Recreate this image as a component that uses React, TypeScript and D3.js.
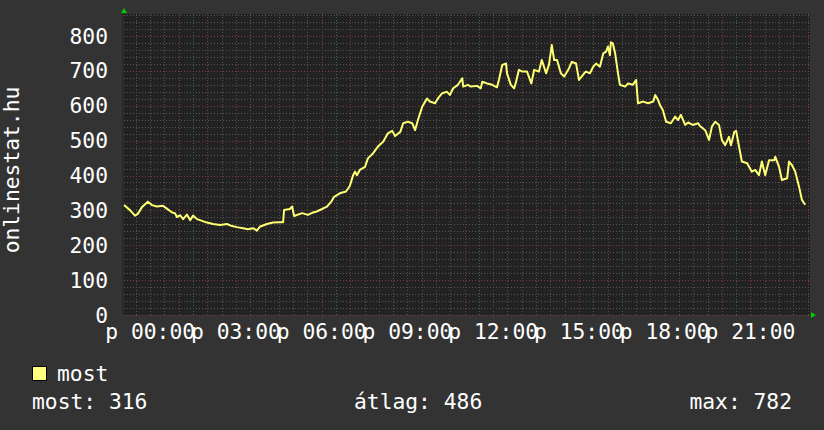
import React from "react";
import * as d3 from "d3";

// minutes after the window start (23:05), and visitor counts
const minutes = [0, 2, 13, 23, 29, 38, 50, 59, 69, 82, 90, 101, 107, 111, 118, 124, 132, 139, 145, 153, 164, 174, 187, 202, 216, 227, 237, 250, 260, 271, 279, 285, 300, 313, 327, 334, 336, 348, 353, 357, 374, 386, 395, 403, 416, 426, 435, 441, 453, 466, 474, 481, 485, 489, 495, 506, 512, 523, 533, 544, 554, 563, 569, 580, 586, 596, 605, 611, 617, 626, 636, 642, 653, 659, 668, 678, 684, 691, 701, 710, 712, 722, 728, 741, 749, 752, 762, 773, 783, 787, 794, 802, 804, 812, 819, 823, 829, 836, 846, 855, 861, 871, 877, 886, 892, 898, 903, 909, 917, 924, 934, 940, 949, 955, 966, 970, 978, 985, 991, 999, 1006, 1012, 1016, 1020, 1022, 1026, 1031, 1033, 1037, 1041, 1052, 1058, 1068, 1075, 1079, 1090, 1100, 1111, 1115, 1121, 1125, 1131, 1138, 1148, 1157, 1163, 1169, 1178, 1184, 1194, 1205, 1209, 1220, 1228, 1234, 1241, 1249, 1255, 1262, 1270, 1274, 1281, 1285, 1291, 1297, 1308, 1318, 1325, 1333, 1339, 1346, 1354, 1365, 1367, 1375, 1381, 1392, 1396, 1402, 1409, 1417, 1423, 1430];
const visitors = [315, 313, 300, 285, 290, 310, 325, 315, 311, 313, 305, 294, 292, 281, 286, 275, 288, 272, 285, 275, 270, 265, 261, 258, 261, 255, 252, 249, 246, 249, 242, 253, 261, 265, 266, 266, 301, 304, 311, 284, 292, 287, 293, 296, 304, 311, 325, 339, 349, 354, 370, 401, 411, 401, 416, 425, 449, 464, 483, 497, 521, 528, 513, 525, 550, 554, 550, 530, 559, 597, 621, 612, 607, 621, 636, 640, 631, 650, 660, 679, 655, 660, 655, 657, 650, 669, 664, 660, 653, 674, 717, 721, 693, 660, 650, 669, 703, 698, 698, 664, 703, 698, 731, 693, 717, 774, 731, 731, 693, 684, 707, 726, 721, 674, 693, 698, 693, 712, 721, 712, 750, 755, 770, 745, 782, 779, 750, 731, 693, 660, 655, 664, 660, 674, 607, 612, 607, 612, 631, 617, 602, 588, 554, 550, 569, 559, 574, 545, 552, 545, 550, 542, 530, 502, 540, 554, 545, 502, 487, 511, 487, 525, 528, 483, 440, 435, 411, 416, 401, 440, 401, 444, 444, 454, 425, 387, 392, 440, 430, 411, 368, 330, 316];

const yTicks = [0, 100, 200, 300, 400, 500, 600, 700, 800];
const weekdayAbbr = ["v", "h", "k", "sze", "cs", "p", "szo"];
const seriesName = "most";
const yTitle = "onlinestat.hu";
const statLabels = ["most", "átlag", "max"];
const statValues = [316, 486, 782];

const W = 824;
const H = 430;
const plotL = 124;
const plotR = 810;
const plotT = 14;
const plotB = 315;
const FONT = "'DejaVu Sans Mono', monospace";
const FS = 21.3;

export default function App() {
  const start = new Date(2024, 0, 4, 23, 5);
  const end = new Date(start.getTime() + 24 * 3600 * 1000);
  const x = d3.scaleTime().domain([start, end]).range([plotL, plotR]);
  const y = d3.scaleLinear().domain([0, 800]).range([plotB, 36]);

  const data = minutes.map((m, i) => ({ t: new Date(start.getTime() + m * 60000), v: visitors[i] }));
  const line = d3
    .line<{ t: Date; v: number }>()
    .x((d) => x(d.t))
    .y((d) => y(d.v))
    .curve(d3.curveLinear);

  const minorY = d3.range(0, 861, 20).filter((v) => v % 100 !== 0 && y(v) >= plotT);
  const minorX = d3.timeMinute.every(30)!.range(start, end).filter((d) => d.getMinutes() !== 0);
  const majorX = d3.timeHour.every(1)!.range(start, end);
  const labelX = majorX.filter((d) => d.getHours() % 3 === 0);
  const fmt = d3.timeFormat("%H:%M");
  const px = (v: number) => Math.round(v) + 0.5;

  return (
    <svg width={W} height={H} style={{ position: "absolute", left: 0, top: 0, display: "block" }} fontFamily={FONT}>
      <rect x={0} y={0} width={W} height={H} fill="#333333" />
      <rect x={plotL - 2} y={plotT} width={2} height={plotB - plotT} fill="#2a2a2a" />
      <rect x={plotL} y={plotT} width={plotR - plotL} height={plotB - plotT} fill="#222222" />
      {/* minor grid */}
      {minorY.map((v) => (
        <line key={"my" + v} x1={plotL} x2={plotR} y1={px(y(v))} y2={px(y(v))} stroke="#555555" strokeDasharray="1,2" />
      ))}
      {minorX.map((d, i) => (
        <line key={"mx" + i} x1={px(x(d))} x2={px(x(d))} y1={plotT} y2={plotB} stroke="#555555" strokeDasharray="1,2" />
      ))}
      {/* major grid */}
      {yTicks.map((v) => (
        <line key={"My" + v} x1={plotL} x2={plotR} y1={px(y(v))} y2={px(y(v))} stroke="#7e3c3c" strokeDasharray="1,2" />
      ))}
      {majorX.map((d, i) => (
        <line key={"Mx" + i} x1={px(x(d))} x2={px(x(d))} y1={plotT} y2={plotB} stroke="#7e3c3c" strokeDasharray="1,2" />
      ))}
      {/* arrows */}
      <path d={`M${plotL - 3},${plotT - 1} L${plotL + 3},${plotT - 1} L${plotL},${plotT - 6} Z`} fill="#00cc00" />
      <path d={`M${plotR + 1},${plotB - 3} L${plotR + 1},${plotB + 3} L${plotR + 6},${plotB} Z`} fill="#00cc00" />
      {/* y labels */}
      {yTicks.map((v) => (
        <text key={"yl" + v} x={108} y={y(v) + 7.5} fontSize={FS} fill="#ffffff" textAnchor="end">
          {v}
        </text>
      ))}
      {/* x labels */}
      {labelX.map((d, i) => (
        <text key={"xl" + i} x={x(d)} y={338.5} fontSize={FS} fill="#ffffff" textAnchor="middle" xmlSpace="preserve">
          {weekdayAbbr[d.getDay()] + " " + fmt(d)}
        </text>
      ))}
      {/* y title */}
      <text transform="translate(18.5,170) rotate(-90)" fontSize={FS} fill="#ffffff" textAnchor="middle">
        {yTitle}
      </text>
      {/* series */}
      <path d={line(data) || ""} fill="none" stroke="#ffff73" strokeWidth={2} strokeLinejoin="round" />
      {/* legend */}
      <rect x={32.5} y={366.5} width={14} height={14} fill="#ffff80" stroke="#000000" strokeWidth={1} />
      <text x={57} y={381} fontSize={FS} fill="#ffffff">
        {seriesName}
      </text>
      <text x={32} y={409} fontSize={FS} fill="#ffffff">{`${statLabels[0]}: ${statValues[0]}`}</text>
      <text x={354} y={409} fontSize={FS} fill="#ffffff">{`${statLabels[1]}: ${statValues[1]}`}</text>
      <text x={792} y={409} fontSize={FS} fill="#ffffff" textAnchor="end">{`${statLabels[2]}: ${statValues[2]}`}</text>
    </svg>
  );
}
